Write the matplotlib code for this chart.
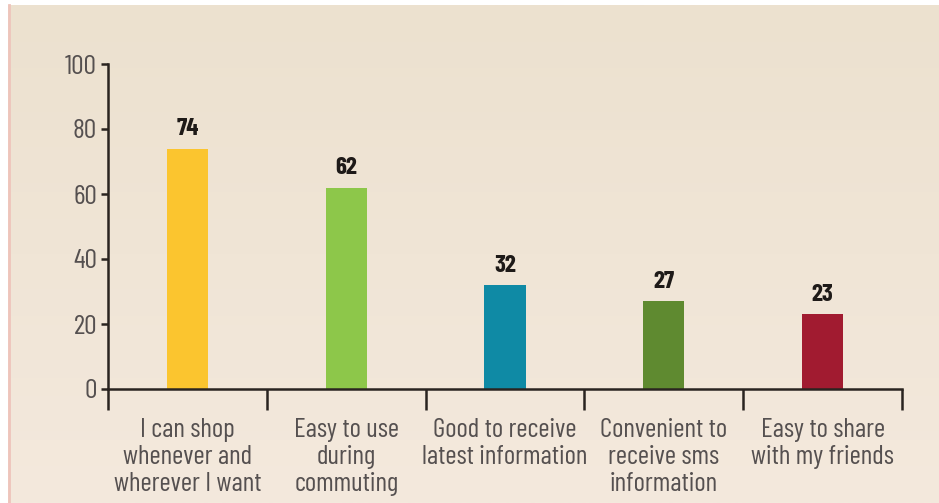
import matplotlib.pyplot as plt
import numpy as np
from matplotlib.lines import Line2D

categories = ['I can shop\nwhenever and\nwherever I want',
              'Easy to use\nduring\ncommuting',
              'Good to receive\nlatest information',
              'Convenient to\nreceive sms\ninformation',
              'Easy to share\nwith my friends']
values = [74, 62, 32, 27, 23]
bar_colors = ['#fbc52f', '#8dc74a', '#0f8aa5', '#5f8a30', '#a11b30']
yticks = [0, 20, 40, 60, 80, 100]

FONT = ['Barlow Condensed', 'DejaVu Sans']
INK = '#2a2420'
GREY = '#555050'

W, H = 939, 503
fig = plt.figure(figsize=(W / 100, H / 100), dpi=100, facecolor='white')

# beige panel with a soft vertical gradient
bg = fig.add_axes([8 / W, 0, 1 - 8 / W, 1 - 5 / H], zorder=0)
grad = np.linspace(0, 1, 256).reshape(-1, 1)
top = np.array([236, 225, 207]) / 255
bot = np.array([244, 233, 221]) / 255
img = top + (bot - top) * grad[..., None]
bg.imshow(img, aspect='auto', extent=[0, 1, 0, 1], origin='upper')
bg.axis('off')
fig.add_artist(Line2D([9 / W, 9 / W], [0, 1 - 5 / H], color='#eec4bb', lw=2))

# main chart area
ax = fig.add_axes([108 / W, (H - 389) / H, (902 - 108) / W, (389 - 64) / H], zorder=1)
ax.set_facecolor('none')
x = np.arange(len(values))
ax.bar(x, values, width=0.26, color=bar_colors)

for xi, v in zip(x, values):
    ax.text(xi, v + 2.5, str(v), ha='center', va='bottom', fontsize=18,
            fontweight='bold', color='#1e1a18', family=FONT)

ax.set_xlim(-0.5, len(values) - 0.5)
ax.set_ylim(0, 100)

for side in ['top', 'right']:
    ax.spines[side].set_visible(False)
for side in ['left', 'bottom']:
    ax.spines[side].set_color(INK)
    ax.spines[side].set_linewidth(1.8)

ax.set_yticks(yticks)
ax.tick_params(axis='y', length=5, width=1.8, color=INK, pad=3,
               labelsize=20, labelcolor=GREY)
for lbl in ax.get_yticklabels():
    lbl.set_family(FONT)
    lbl.set_fontweight(400)

# category boundaries carry the ticks, labels sit between them
ax.set_xticks(np.arange(-0.5, len(values), 1.0))
ax.set_xticklabels([])
ax.tick_params(axis='x', which='major', length=15, width=1.8, color=INK, direction='out')
ax.set_xticks(x, minor=True)
ax.set_xticklabels(categories, minor=True, fontsize=19.5, color=GREY,
                   family=FONT, fontweight=400, linespacing=1.15)
ax.tick_params(axis='x', which='minor', length=0, pad=21)

fig.savefig('out.png', dpi=100, facecolor='white')
